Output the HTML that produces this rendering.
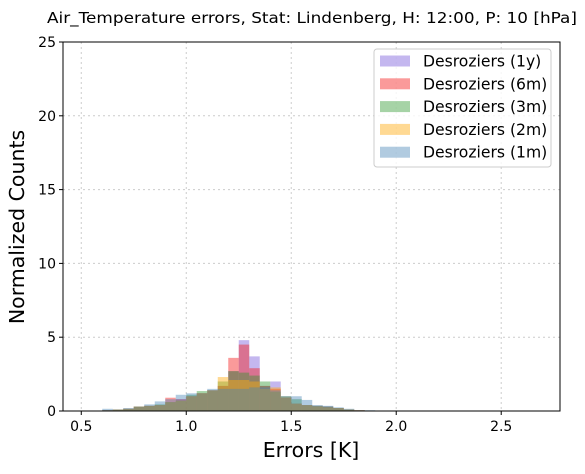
<!DOCTYPE html>
<html><head><meta charset="utf-8"><style>
body{margin:0;background:#fff;width:585px;height:470px;overflow:hidden;font-family:"DejaVu Sans","Liberation Sans",sans-serif;}
</style></head><body>
<svg id="chart" width="585" height="470" xmlns="http://www.w3.org/2000/svg" font-family="DejaVu Sans, Liberation Sans, sans-serif">
<rect width="585" height="470" fill="#fff"/>
<text x="47" y="23" font-size="15" textLength="530" lengthAdjust="spacingAndGlyphs">Air_Temperature errors, Stat: Lindenberg, H: 12:00, P: 10 [hPa]</text>
<g id="grid"></g>
<g id="bars"></g>
<rect x="63" y="42" width="497" height="369" fill="none" stroke="#000" stroke-width="1"/>
<g id="axes" font-size="14"></g>
<text x="311" y="457" text-anchor="middle" font-size="20.5">Errors [K]</text>
<text transform="translate(24,227) rotate(-90)" text-anchor="middle" font-size="20.5">Normalized Counts</text>
<g>
<rect x="374" y="49" width="177" height="118" rx="3" fill="#fff" fill-opacity="0.8" stroke="#ccc"/>
<g id="legend-items" font-size="15.6"></g>
</g>
</svg>
<script>
const binStarts = [0.60,0.65,0.70,0.75,0.80,0.85,0.90,0.95,1.00,1.05,1.10,1.15,1.20,1.25,1.30,1.35,1.40,1.45,1.50,1.55,1.60,1.65,1.70,1.75,1.80,1.85];
const binWidth = 0.05;
const s1y = [0.05,0.1,0.15,0.3,0.35,0.4,0.6,0.8,1.0,1.2,1.4,1.7,2.7,4.8,3.7,1.7,2.0,1.0,0.5,0.4,0.3,0.3,0.2,0.1,0.05,0.02];
const s6m = [0.05,0.1,0.15,0.3,0.35,0.4,0.9,0.8,1.0,1.2,1.4,1.7,3.6,4.5,2.9,1.7,1.5,0.9,0.5,0.4,0.35,0.3,0.2,0.1,0.05,0.02];
const s3m = [0.05,0.1,0.15,0.3,0.35,0.45,0.6,0.7,1.1,1.35,1.4,2.0,2.7,2.6,2.4,2.0,1.3,1.0,0.8,0.4,0.35,0.3,0.2,0.1,0.05,0.02];
const s2m = [0.05,0.1,0.15,0.3,0.35,0.4,0.6,0.7,1.0,1.2,1.4,2.3,2.1,2.1,2.0,1.5,1.6,0.9,0.5,0.4,0.3,0.25,0.2,0.1,0.05,0.02];
const s1m = [0.15,0.1,0.2,0.3,0.45,0.65,0.8,1.1,1.2,1.2,1.5,1.5,1.5,1.5,1.6,1.6,1.4,0.9,1.0,0.75,0.4,0.35,0.25,0.15,0.05,0.05];
const seriesNames = ["Desroziers (1y)","Desroziers (6m)","Desroziers (3m)","Desroziers (2m)","Desroziers (1m)"];
const seriesData = [s1y,s6m,s3m,s2m,s1m];
const seriesColors = ["#8a70e0","#f52020","#2a962a","#ffaa10","#4682b4"];
const seriesAlpha = [0.5,0.45,0.42,0.45,0.42];
const xTicks = [0.5,1.0,1.5,2.0,2.5];
const yTicks = [0,5,10,15,20,25];
const xMin=0.413, xMax=2.78, yMin=0, yMax=25;
const L=63,R=560,T=42,B=411;
function xs(v){return L+(v-xMin)/(xMax-xMin)*(R-L);}
function ys(v){return B-(v-yMin)/(yMax-yMin)*(B-T);}
const NS="http://www.w3.org/2000/svg";
function mk(tag,attrs,parent){const e=document.createElementNS(NS,tag);for(const k in attrs)e.setAttribute(k,attrs[k]);parent.appendChild(e);return e;}
const grid=document.getElementById('grid'),axes=document.getElementById('axes'),bars=document.getElementById('bars');
xTicks.forEach(t=>{
 const g=mk('line',{x1:xs(t),x2:xs(t),y1:T,y2:B,stroke:'#ccc','stroke-dasharray':'2,3'},grid);
 
 const tk=mk('line',{x1:xs(t),x2:xs(t),y1:B,y2:B+4,stroke:'#000'},axes);
 
 const tx=mk('text',{x:xs(t),y:B+20,'text-anchor':'middle'},axes);tx.textContent=t.toFixed(1);
 
});
yTicks.forEach(t=>{
 const g=mk('line',{x1:L,x2:R,y1:ys(t),y2:ys(t),stroke:'#ccc','stroke-dasharray':'2,3'},grid);
 
 const tk=mk('line',{x1:L-4,x2:L,y1:ys(t),y2:ys(t),stroke:'#000'},axes);
 
 const tx=mk('text',{x:L-7,y:ys(t)+5,'text-anchor':'end'},axes);tx.textContent=t;
 
});
seriesData.forEach((d,si)=>{
 d.forEach((v,i)=>{
  const x0=xs(binStarts[i]),x1=xs(binStarts[i]+binWidth);
  const r=mk('rect',{x:x0,y:ys(v),width:x1-x0,height:ys(0)-ys(v),fill:seriesColors[si],'fill-opacity':seriesAlpha[si]},bars);
  
  
 });
});
const li=document.getElementById('legend-items');
seriesNames.forEach((n,i)=>{
 const y=61+i*22.8;
 const sw=mk('rect',{x:380,y:y-5.5,width:30,height:11,fill:seriesColors[i],'fill-opacity':seriesAlpha[i]},li);
 
 const t=mk('text',{x:423,y:y+5.5},li);t.textContent=n;
 
});
</script>
</body></html>
